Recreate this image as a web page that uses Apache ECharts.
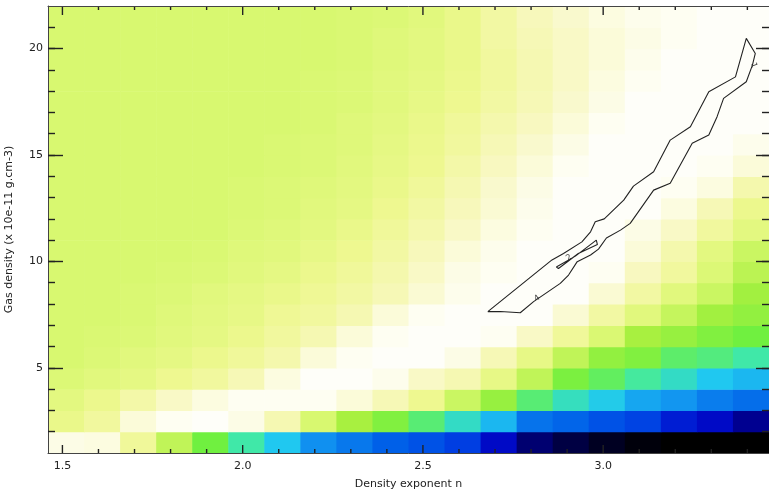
<!DOCTYPE html>
<html><head><meta charset="utf-8">
<script src="https://cdn.jsdelivr.net/npm/echarts@6/dist/echarts.min.js"></script>
<style>html,body{margin:0;padding:0;background:#fff}#c{width:769px;height:491px}</style>
</head><body><div id="c"></div>
<script>
// ---- data ----
const densityExponent = [1.51,1.61,1.71,1.81,1.91,2.01,2.11,2.21,2.31,2.41,2.51,2.61,2.71,2.81,2.91,3.01,3.11,3.21,3.31,3.41];
const gasDensity = [1.5,2.5,3.5,4.5,5.5,6.5,7.5,8.5,9.5,10.5,11.5,12.5,13.5,14.5,15.5,16.5,17.5,18.5,19.5,20.5,21.5];
// relative likelihood (0 = black ... 130 = white), rows from bottom (1.5) to top (21.5)
const likelihood = [
 [126,125,112,95,80,70,60,50,45,40,37,33,22,10,6,3,1,0,0,0],
 [108,113,124,128,129,126,117,100,90,83,75,66,57,44,41,37,34,26,22,14],
 [105,109,115,121,125,128,128,128,124,118,110,97,87,75,67,61,54,51,46,43],
 [102,104,106,110,113,118,125,129,129,127,121,117,107,95,82,77,71,66,60,57],
 [100,102,104,106,109,112,116,124,128,129,129,126,118,107,95,86,83,76,74,70],
 [100,101,102,104,106,109,113,117,124,128,129,129,128,121,112,101,90,87,83,80],
 [100,100,101,103,105,107,111,113,117,124,128,129,129,129,123,114,104,96,89,86],
 [100,100,101,102,104,106,108,111,114,118,123,127,129,129,129,123,114,104,97,89],
 [100,100,100,101,102,104,106,109,112,116,121,126,128,129,129,128,120,113,102,94],
 [100,100,100,100,101,103,104,107,110,114,119,124,127,129,129,129,124,116,105,97],
 [100,100,100,100,100,102,103,105,108,112,116,121,125,128,129,129,126,121,113,105],
 [100,100,100,100,100,101,102,104,106,110,114,119,123,127,129,129,129,125,118,109],
 [100,100,100,100,100,101,102,103,105,108,112,117,122,126,129,129,129,128,125,116],
 [100,100,100,100,100,100,101,102,104,107,110,115,120,124,128,129,129,129,128,124],
 [100,100,100,100,100,100,101,102,103,106,109,113,118,122,126,129,129,129,129,127],
 [100,100,100,100,100,100,100,101,103,105,108,112,116,120,124,128,129,129,129,129],
 [100,100,100,100,100,100,100,101,102,104,107,110,114,118,122,126,129,129,129,129],
 [100,100,100,100,100,100,100,101,102,104,106,109,113,117,121,125,128,129,129,129],
 [100,100,100,100,100,100,100,100,101,103,105,108,113,117,121,124,127,129,129,129],
 [100,100,100,100,100,100,100,100,101,103,105,108,114,118,121,124,126,128,129,129],
 [100,100,100,100,100,100,100,100,101,102,104,108,114,119,122,125,127,128,129,129]
];
// axis ranges and ticks
const xRange = [1.46, 3.46];
const yRange = [1, 22];
const xMajorTicks = [1.5, 2.0, 2.5, 3.0];
const xMinorTicks = [1.6,1.7,1.8,1.9,2.1,2.2,2.3,2.4,2.6,2.7,2.8,2.9,3.1,3.2,3.3,3.4];
const xMajor = { min: 1.5, max: 3.0, step: 0.5 };
const yMajor = { min: 5, max: 20, step: 5 };
const yMinor = { min: 2, max: 21, step: 1 };
// confidence contours
const contourOuterN   = [2.680,2.858,2.890,2.941,2.965,2.978,3.003,3.057,3.084,3.140,3.186,3.242,3.293,3.367,3.397,3.422,3.414,3.397,3.334,3.316,3.293,3.247,3.186,3.140,3.075,3.048,3.009,2.987,2.965,2.928,2.904,2.881,2.807,2.770,2.715,2.680];
const contourOuterRho = [7.64,10.07,10.37,10.92,11.39,11.86,12.00,12.88,13.54,14.21,15.70,16.33,17.97,18.67,20.48,19.77,19.22,18.44,17.66,16.80,15.94,15.55,13.67,13.35,11.79,11.47,11.10,10.58,10.30,9.99,9.36,8.97,8.11,7.59,7.65,7.64];
const contourInnerN   = [2.870,2.923,2.981,2.984,2.931,2.876,2.870];
const contourInnerRho = [9.74,10.25,11.00,10.79,10.37,9.67,9.74];
const contourLabelText = ['4','2','1'];
const contourLabelN    = [2.817,2.905,3.418];
const contourLabelRho  = [8.27,10.18,19.22];
const contourLabelAngle = [36,33,-70];

// ---- build ----
const palette = ['#000000','#000070','#0000c0','#0030e0','#0060e8','#1090f0','#20c8f0','#40e8a8','#70f040','#a8f040','#d8f870','#eef890','#f8f8c0','#ffffff'];
const cells = [];
likelihood.forEach((row, j) => row.forEach((v, i) => cells.push([densityExponent[i], gasDensity[j], v])));
const cellW = densityExponent[1] - densityExponent[0];
const cellH = gasDensity[1] - gasDensity[0];
const outer = contourOuterN.map((n, i) => [n, contourOuterRho[i]]);
const inner = contourInnerN.map((n, i) => [n, contourInnerRho[i]]);
const labels = contourLabelText.map((t, i) => [contourLabelN[i], contourLabelRho[i], contourLabelAngle[i], t]);
const xTicks = xMajorTicks.map(v => [v, 1]).concat(xMinorTicks.map(v => [v, 0]));

// main plot box (pixels)
const W = 769, H = 491;
const box = { left: 48, top: 6, right: 0, bottom: 38 };
const pw = W - box.left - box.right, ph = H - box.top - box.bottom;
const sx = pw / (xRange[1] - xRange[0]), sy = ph / (yRange[1] - yRange[0]);
// helper grids whose edges sit on the first/last tick so interval ticks start at a round value
function subGrid(xr, yr) {
  const l = box.left + (xr.min - xRange[0]) * sx;
  const r = box.left + (xr.max - xRange[0]) * sx;
  const t = box.top + (yRange[1] - yr.max) * sy;
  const b = box.top + (yRange[1] - yr.min) * sy;
  return { grid: { left: l, top: t, right: W - r, bottom: H - b, containLabel: false, outerBoundsMode: 'none' },
           off: { left: l - box.left, right: W - box.right - r, top: t - box.top, bottom: H - box.bottom - b } };
}
const gMinor = subGrid(xMajor, yMinor);
const gMajor = subGrid(xMajor, yMajor);

const font = 'DejaVu Sans';
const tickCol = '#222';
const txt = { color: '#222', fontFamily: font, fontSize: 11 };
function yTickAxis(gi, r, pos, off, len, labelOpt) {
  return {
    type: 'value', gridIndex: gi, min: r.min, max: r.max, interval: r.step, position: pos, offset: off, zlevel: 1,
    axisLine: { show: false, onZero: false },
    axisTick: { show: true, inside: true, length: len, lineStyle: { color: tickCol, width: 1.4 } },
    axisLabel: labelOpt ? Object.assign({ show: true }, txt, labelOpt) : { show: false },
    splitLine: { show: false }
  };
}
function xHelperAxis(gi, pos, off, withLabels) {
  return {
    type: 'value', gridIndex: gi, min: xMajor.min, max: xMajor.max, interval: xMajor.step, position: pos, offset: off, zlevel: 1,
    axisLine: { show: false, onZero: false }, axisTick: { show: false },
    axisLabel: withLabels ? Object.assign({ show: true, margin: 8, formatter: v => v.toFixed(1) }, txt) : { show: false },
    splitLine: { show: false }
  };
}
function frameAxis(r, pos, name, gap) {
  return {
    type: 'value', gridIndex: 0, min: r[0], max: r[1], position: pos, zlevel: 1,
    axisLine: { show: true, onZero: false, lineStyle: { color: '#444', width: 1 } },
    axisTick: { show: false }, axisLabel: { show: false }, splitLine: { show: false },
    name: name || '', nameLocation: 'middle', nameGap: gap || 0, nameTextStyle: txt
  };
}

const chart = echarts.init(document.getElementById('c'), null, { renderer: 'canvas' });
chart.setOption({
  animation: false,
  backgroundColor: '#ffffff',
  grid: [Object.assign({ containLabel: false, outerBoundsMode: 'none' }, box), gMinor.grid, gMajor.grid],
  xAxis: [
    frameAxis(xRange, 'bottom', 'Density exponent n', 26),
    frameAxis(xRange, 'top'),
    xHelperAxis(1, 'bottom', gMinor.off.bottom, false),
    xHelperAxis(2, 'bottom', gMajor.off.bottom, true),
    xHelperAxis(2, 'top', gMajor.off.top, false)
  ],
  yAxis: [
    frameAxis(yRange, 'left', 'Gas density (x 10e-11 g.cm-3)', 33),
    frameAxis(yRange, 'right'),
    yTickAxis(1, yMinor, 'left', gMinor.off.left, 7),
    yTickAxis(1, yMinor, 'right', gMinor.off.right, 7),
    yTickAxis(2, yMajor, 'left', gMajor.off.left, 15, { margin: 5 }),
    yTickAxis(2, yMajor, 'right', gMajor.off.right, 13)
  ],
  visualMap: { show: false, seriesIndex: 0, dimension: 2, min: 0, max: 130, inRange: { color: palette } },
  series: [
    { type: 'custom', xAxisIndex: 0, yAxisIndex: 0, z: 1, data: cells,
      renderItem: (params, api) => {
        const x = api.value(0), y = api.value(1);
        const a = api.coord([x - cellW / 2, y + cellH / 2]);
        const b = api.coord([x + cellW / 2, y - cellH / 2]);
        return { type: 'rect', shape: { x: a[0], y: a[1], width: b[0] - a[0] + 0.6, height: b[1] - a[1] + 0.6 },
                 style: { fill: api.visual('color') } };
      } },
    { type: 'line', xAxisIndex: 0, yAxisIndex: 0, z: 3, data: outer, showSymbol: false, symbol: 'none',
      lineStyle: { color: '#222', width: 1.1 } },
    { type: 'line', xAxisIndex: 0, yAxisIndex: 0, z: 3, data: inner, showSymbol: false, symbol: 'none',
      lineStyle: { color: '#222', width: 1.1 } },
    { type: 'custom', xAxisIndex: 0, yAxisIndex: 0, z: 4, data: labels,
      renderItem: (params, api) => {
        const p = api.coord([api.value(0), api.value(1)]);
        const d = labels[params.dataIndex];
        return { type: 'text', x: p[0], y: p[1], rotation: d[2] * Math.PI / 180,
                 style: { text: d[3], fill: '#333', fontSize: 8, fontFamily: font, align: 'center', verticalAlign: 'middle' } };
      } },
    // x-axis tick marks (bottom and top, inward)
    { type: 'custom', xAxisIndex: 0, yAxisIndex: 0, z: 6, data: xTicks, clip: false,
      renderItem: (params, api) => {
        const v = api.value(0), major = api.value(1) === 1;
        const b = api.coord([v, yRange[0]]);
        const t = api.coord([v, yRange[1]]);
        const lb = major ? 8 : 4, lt = major ? 9 : 4;
        return { type: 'group', children: [
          { type: 'line', shape: { x1: b[0], y1: b[1], x2: b[0], y2: b[1] - lb }, style: { stroke: tickCol, lineWidth: 1.4 } },
          { type: 'line', shape: { x1: t[0], y1: t[1], x2: t[0], y2: t[1] + lt }, style: { stroke: tickCol, lineWidth: 1.4 } }
        ] };
      } }
  ]
});
</script></body></html>
